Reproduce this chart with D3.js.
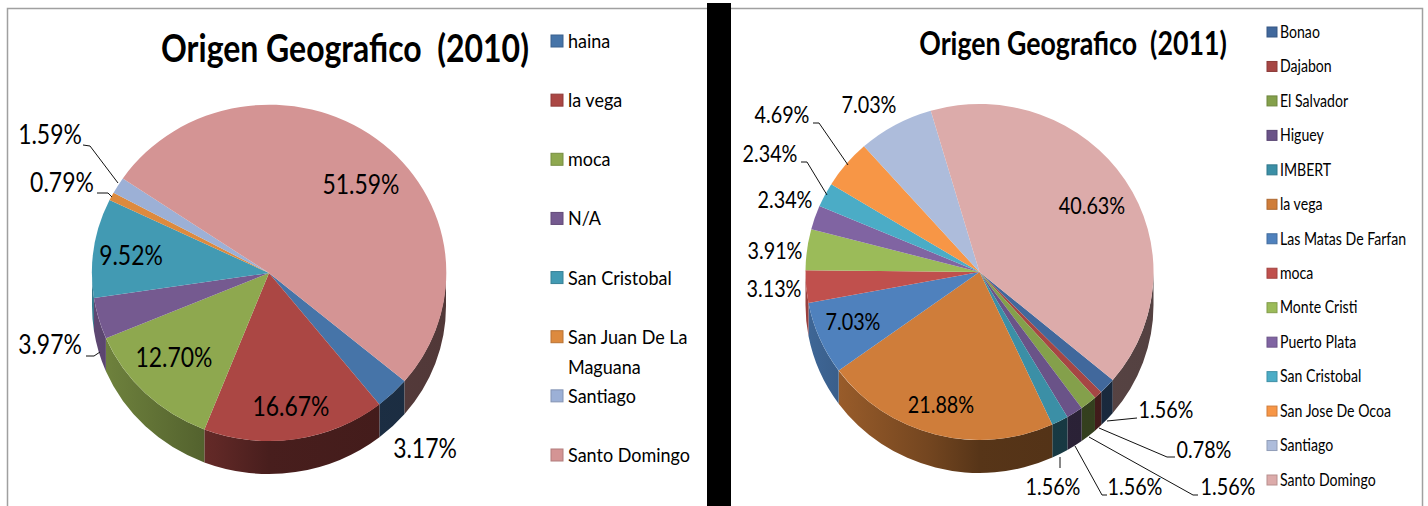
<!DOCTYPE html>
<html>
<head>
	<meta charset="utf-8">
	<title>Origen Geografico</title>
	<style>
		html, body { margin: 0; padding: 0; background: #fff; }
		svg { display: block; }
		text { font-family: Lato, "Open Sans", sans-serif; fill: #000; white-space: pre; }
	</style>
</head>
<body>
	<svg width="1428" height="506"></svg>
<script src="https://cdn.jsdelivr.net/npm/d3@7"></script>
<script>
	// 2010
	const cats2010 = ["haina", "la vega", "moca", "N/A", "San Cristobal", "San Juan De La Maguana", "Santiago", "Santo Domingo"]
	const vals2010 = [3.17, 16.67, 12.70, 3.97, 9.52, 0.79, 1.59, 51.59]
	const cols2010 = ["#4674a8", "#ab4744", "#8ea84f", "#755a90", "#429ab3", "#dd8a3e", "#9cb0d6", "#d49494"]
	// 2011
	const cats2011 = ["Bonao", "Dajabon", "El Salvador", "Higuey", "IMBERT", "la vega", "Las Matas De Farfan", "moca", "Monte Cristi", "Puerto Plata", "San Cristobal", "San Jose De Ocoa", "Santiago", "Santo Domingo"]
	const vals2011 = [1.56, 0.78, 1.56, 1.56, 1.56, 21.88, 7.03, 3.13, 3.91, 2.34, 2.34, 4.69, 7.03, 40.63]
	const cols2011 = ["#41689c", "#a64644", "#84a04b", "#6a5388", "#3b8fa6", "#cf7d3a", "#4f81bd", "#c0504d", "#9bbb59", "#8064a2", "#4bacc6", "#f79646", "#adbcdb", "#dcabaa"]

	// label centres, same order as the values
	const labels2010 = [[425, 449], [291, 407], [174, 358], [50, 345], [131, 256], [62, 183], [50, 135], [361, 185]]
	const labels2011 = [[1166, 410], [1204, 450], [1228, 487], [1135, 487], [1053, 487], [941, 405], [853, 322], [774, 289], [775, 251], [785, 200], [770, 154], [782, 115], [869, 105], [1092, 206]]
	// leader lines
	const leaders2010 = [[[83, 145], [90, 146], [118, 183]], [[97, 193], [108, 193], [112, 197]], [[86, 356], [94, 356], [100, 352]]]
	const leaders2011 = [[[813, 123], [819, 123], [848, 165]], [[801, 162], [807, 162], [827, 195]],
		[[1137, 418], [1107, 421]], [[1175, 457], [1167, 457], [1099, 428]],
		[[1198, 495], [1193, 495], [1089, 437]], [[1107, 495], [1102, 495], [1075, 446]], [[1060, 457], [1060, 468]]]

	const svg = d3.select("svg")
	const defs = svg.append("defs")
	const rad = d3.scaleLinear().domain([0, 360]).range([0, 2 * Math.PI])
	const shade = d3.scaleLinear().domain([0, 0.35, 0.5, 1]).range([0.8, 0.56, 0.42, 0.38])

	// Lato is wider than the original font, so narrow the text around its x
	function squeeze(sel, k) {
		sel.each(function () {
			const x = +this.getAttribute("x")
			d3.select(this).attr("transform", `translate(${x * (1 - k)},0) scale(${k},1)`)
		})
	}

	function drawPie(o) {
		const pie = d3.pie().sort(null).startAngle(rad(130)).endAngle(rad(490))(o.vals)
		const px = a => o.cx + o.rx * Math.sin(a)
		const py = a => o.cy - o.ry * Math.cos(a)
		const g = svg.append("g")

		// side walls, only the part of each slice facing the viewer
		const fronts = [[rad(90), rad(270)], [rad(450), rad(630)]]
		pie.forEach(d => {
			const id = "wall" + o.year + "-" + d.index
			const grad = defs.append("linearGradient").attr("id", id)
				.attr("gradientUnits", "userSpaceOnUse")
				.attr("x1", o.cx - o.rx).attr("x2", o.cx + o.rx).attr("y1", 0).attr("y2", 0)
			shade.domain().forEach(t => {
				const c = d3.rgb(o.cols[d.index])
				const k = shade(t)
				grad.append("stop").attr("offset", t)
					.attr("stop-color", d3.rgb(c.r * k, c.g * k, c.b * k))
			})
			fronts.forEach(f => {
				const a0 = Math.max(d.startAngle, f[0]), a1 = Math.min(d.endAngle, f[1])
				if (a1 <= a0) return
				g.append("path")
					.attr("fill", "url(#" + id + ")")
					.attr("d", `M${px(a0)},${py(a0)}A${o.rx},${o.ry} 0 0 1 ${px(a1)},${py(a1)}` +
						`L${px(a1)},${py(a1) + o.depth}A${o.rx},${o.ry} 0 0 0 ${px(a0)},${py(a0) + o.depth}Z`)
			})
		})

		// top face: unit arcs squashed into the ellipse
		const arcMkr = d3.arc().innerRadius(0).outerRadius(1)
		g.append("g").attr("transform", `translate(${o.cx},${o.cy}) scale(${o.rx},${o.ry})`)
			.selectAll("path").data(pie).enter().append("path")
			.attr("fill", d => o.cols[d.index])
			.attr("d", arcMkr)

		// leader lines
		g.selectAll("polyline").data(o.leaders).enter().append("polyline")
			.attr("points", d => d.join(" "))
			.attr("fill", "none").attr("stroke", "#111").attr("stroke-width", 1)

		// percentages
		const fmt = d3.format(".2f")
		g.selectAll("text.pct").data(pie).enter().append("text")
			.attr("class", "pct")
			.attr("x", d => o.labels[d.index][0])
			.attr("y", d => o.labels[d.index][1])
			.attr("dy", "0.35em")
			.attr("text-anchor", "middle")
			.attr("font-size", o.pctSize)
			.text(d => fmt(d.value) + "%")
			.call(squeeze, o.pctK)

		// title
		g.append("text").attr("x", o.titleX).attr("y", o.titleY).attr("dy", "0.35em")
			.attr("text-anchor", "middle").attr("font-weight", "bold")
			.attr("font-size", o.titleSize)
			.text("Origen Geografico  (" + o.year + ")")
			.call(squeeze, o.titleK)

		// legend
		const ly = d3.scalePoint().domain(o.cats).range(o.legendY)
		const lg = g.selectAll("g.leg").data(o.cats).enter().append("g")
			.attr("class", "leg")
			.attr("transform", (d, i) => `translate(${o.legendX},${ly(d)})`)
		lg.append("rect")
			.attr("x", 0).attr("y", -o.box / 2).attr("width", o.box).attr("height", o.box)
			.attr("fill", (d, i) => o.cols[i])
			.attr("stroke", (d, i) => d3.rgb(o.cols[i]).darker(0.5))
		lg.each(function (d) {
			const words = d === "San Juan De La Maguana" ? ["San Juan De La", "Maguana"] : [d]
			d3.select(this).selectAll("text").data(words).enter().append("text")
				.attr("x", o.box + o.gap)
				.attr("y", (w, i) => i * 30)
				.attr("dy", "0.35em")
				.attr("font-size", o.legendSize)
				.text(w => w)
				.call(squeeze, o.legendK)
		})
	}

	// frame
	svg.append("rect").attr("x", 7.5).attr("y", 8.5).attr("width", 1415).attr("height", 520)
		.attr("fill", "#fff").attr("stroke", "#a0a0a0").attr("stroke-width", 1.5)

	drawPie({ year: 2010, cats: cats2010, vals: vals2010, cols: cols2010, labels: labels2010, leaders: leaders2010,
		cx: 269, cy: 273, rx: 177, ry: 168, depth: 33, pctSize: 27, pctK: 0.85,
		titleX: 345, titleY: 48, titleSize: 39, titleK: 0.82,
		legendX: 551, legendY: [41, 455], box: 12, gap: 5, legendSize: 20, legendK: 0.9 })
	drawPie({ year: 2011, cats: cats2011, vals: vals2011, cols: cols2011, labels: labels2011, leaders: leaders2011,
		cx: 979.5, cy: 272, rx: 174, ry: 168, depth: 33, pctSize: 23, pctK: 0.86,
		titleX: 1073, titleY: 43, titleSize: 33, titleK: 0.81,
		legendX: 1267, legendY: [32, 480], box: 10, gap: 3, legendSize: 16.5, legendK: 0.855 })

	// black divider
	svg.append("rect").attr("x", 707).attr("y", 3).attr("width", 24).attr("height", 503).attr("fill", "#000")
</script>
</body>
</html>
